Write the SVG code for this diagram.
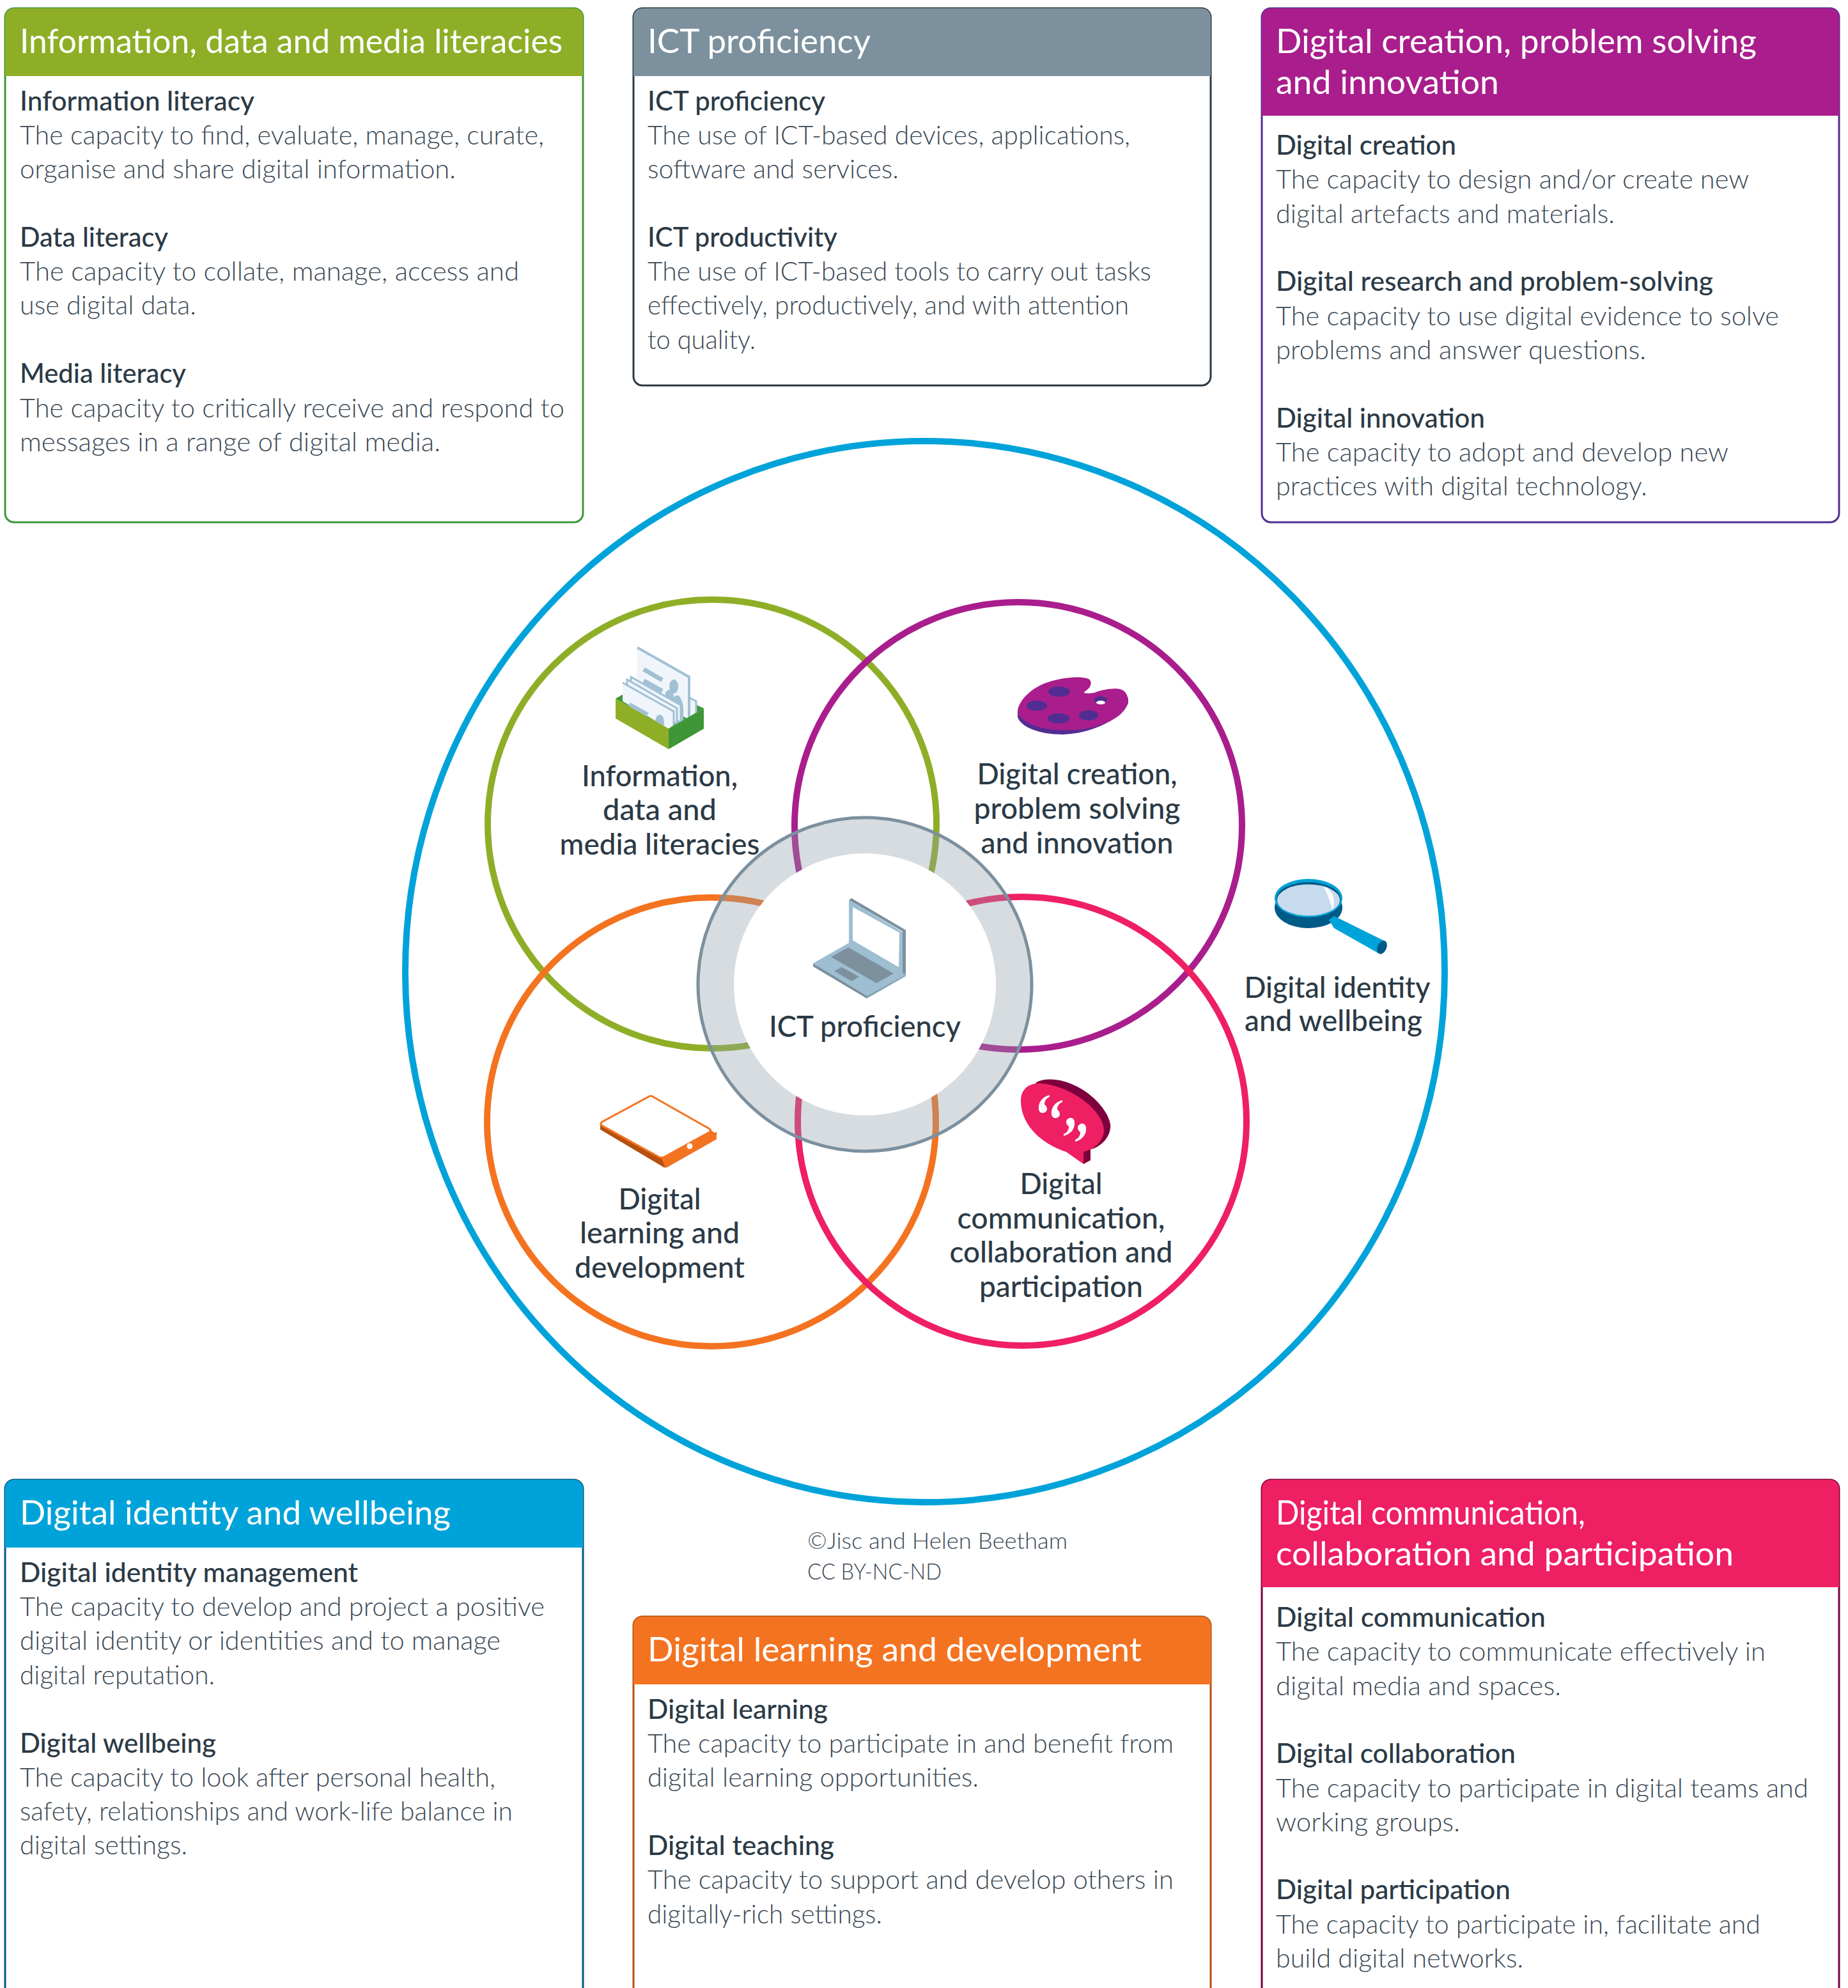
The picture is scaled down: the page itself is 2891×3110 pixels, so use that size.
<svg xmlns="http://www.w3.org/2000/svg" width="2891" height="3110" viewBox="0 0 2891 3110">
<style>
text{font-family:"Lato","Liberation Sans",sans-serif}
.h{font-size:52px;fill:#fff;font-weight:400}
.t{font-size:42px;fill:#2b3a46;font-weight:500}
.b{font-size:42px;fill:#3a4854;font-weight:300}
.c{font-size:36px;fill:#3a4854;font-weight:300}
.l{font-size:46px;fill:#2b3a46;font-weight:500;text-anchor:middle}
.o{fill:none;stroke-width:10}
.box{fill:#fff;stroke-width:3}
</style>
<defs>
<path id="q" fill="#fff" d="M9,-14C-3,-11-9,-2-8,8C-7,15-1,15 2,13C7,10 5,3 1,1C1,-5 4,-9 9,-11Z"/>
</defs>
<rect width="2891" height="3110" fill="#fff"/>

<g id="venn">
<ellipse id="circle-identity" class="o" cx="1447" cy="1520" rx="813" ry="830" stroke="#00a3d9"/>
<circle id="circle-information" class="o" cx="1114" cy="1289" r="351" stroke="#8fae27"/>
<circle id="circle-creation" class="o" cx="1593" cy="1292" r="350" stroke="#a91e8c"/>
<circle id="circle-learning" class="o" cx="1113" cy="1755" r="351" stroke="#f47321"/>
<circle id="circle-communication" class="o" cx="1599" cy="1754" r="351" stroke="#ef1f63"/>
<g id="circle-ict">
<circle cx="1353" cy="1540" r="205" fill="#fff"/>
<path fill="#909ea9" fill-opacity=".36" fill-rule="evenodd" d="M1091,1540a262,262 0 1,0 524,0a262,262 0 1,0-524,0ZM1148,1540a205,205 0 1,1 410,0a205,205 0 1,1-410,0Z"/>
<circle cx="1353" cy="1540" r="261" fill="none" stroke="#7c909e" stroke-width="5"/>
</g>
</g>

<g id="icon-cards">
<polygon points="963,1093 973,1087 1090,1103 1101,1108 1046,1140" fill="#3f9638"/>
<polygon points="1078,1091 1089,1097 1089,1117 1078,1123" fill="#eff5fa" stroke="#a1c0d3" stroke-width="3"/>
<polygon points="997,1013 1078,1059 1078,1125 997,1090" fill="#eff5fa"/>
<path d="M997,1013L1078,1059V1122" fill="none" stroke="#a1c0d3" stroke-width="4"/>
<path d="M1007,1047L1036,1064M1007,1065L1036,1081" stroke="#a1c0d3" stroke-width="7"/>
<ellipse cx="1054" cy="1074" rx="7" ry="11" fill="#a1c0d3"/>
<ellipse cx="1047" cy="1090" rx="7" ry="11" fill="#a1c0d3"/>
<path d="M1050,1096Q1063,1076 1069,1105V1128H1050Z" fill="#a1c0d3"/>
<polygon points="987,1059 1065,1103 1065,1130 987,1095" fill="#eff5fa" stroke="#a1c0d3" stroke-width="3"/>
<polygon points="981,1063 1059,1108 1059,1132 981,1095" fill="#eff5fa" stroke="#a1c0d3" stroke-width="3"/>
<polygon points="974,1068 1054,1113 1054,1134 1046,1140 974,1097" fill="#eff5fa"/>
<path d="M974,1068L1054,1113V1134" fill="none" stroke="#a1c0d3" stroke-width="3"/>
<path d="M984,1102L1013,1118" stroke="#a1c0d3" stroke-width="7"/>
<ellipse cx="1032" cy="1130" rx="7" ry="12" fill="#a1c0d3"/>
<polygon points="963,1093 1046,1140 1046,1172 963,1124" fill="#8fae27"/>
<polygon points="1046,1140 1101,1108 1101,1140 1046,1172" fill="#3f9638"/>
</g>

<g id="icon-palette">
<path fill="#522d91" d="M1592,1112V1122C1597,1137 1625,1149 1663,1149C1700,1148 1750,1130 1765,1100V1092Z"/>
<path fill="#a91e8c" d="M1592,1112C1594,1095 1615,1074 1643,1066C1665,1059 1690,1058 1700,1061C1708,1063 1708,1070 1704,1076C1700,1080 1696,1082 1696,1084C1700,1085 1708,1085 1714,1083C1725,1079 1745,1075 1755,1079C1762,1082 1765,1090 1765,1098C1762,1112 1748,1124 1730,1131C1710,1140 1685,1143 1663,1142C1640,1142 1615,1137 1603,1127C1596,1122 1592,1118 1592,1112Z"/>
<ellipse cx="1657" cy="1082" rx="17" ry="8" fill="#522d91"/>
<ellipse cx="1622" cy="1104" rx="16" ry="8" fill="#522d91"/>
<ellipse cx="1656" cy="1124" rx="17" ry="8" fill="#522d91"/>
<ellipse cx="1703" cy="1119" rx="15" ry="8" fill="#522d91"/>
<ellipse cx="1722" cy="1095" rx="10" ry="6" fill="#522d91"/>
<ellipse cx="1722" cy="1099" rx="7" ry="3" fill="#fff"/>
</g>

<g id="icon-magnifier">
<ellipse cx="2047" cy="1420" rx="53" ry="32" fill="#005a87"/>
<path d="M2079,1439L2087,1433L2168,1473L2156,1491L2087,1452Z" fill="#00a3d9"/>
<ellipse cx="2162" cy="1482" rx="7" ry="11" fill="#005a87" transform="rotate(25 2162 1482)"/>
<ellipse cx="2047" cy="1405" rx="53" ry="30" fill="#00a3d9"/>
<ellipse cx="2047" cy="1406" rx="50" ry="26" fill="#005a87"/>
<ellipse cx="2047" cy="1408" rx="49" ry="24.500" fill="#c6dbee"/>
<path d="M2070,1386Q2092,1396 2085,1424Q2078,1400 2070,1386Z" fill="#fff"/>
</g>

<g id="icon-tablet">
<path d="M939,1758V1767L1035,1824Q1041,1829 1047,1824L1121,1782V1771L1035,1812Z" fill="#b5500f"/>
<polygon points="1112,1768 1121,1774 1121,1782 1041,1827 1035,1812" fill="#f47321"/>
<path d="M1014,1716Q1018,1713 1022,1716L1110,1766Q1113,1768 1110,1771L1039,1810Q1035,1812 1031,1810L942,1761Q938,1758 942,1755Z" fill="#fff" stroke="#f47321" stroke-width="3"/>
<circle cx="1079" cy="1793" r="4.500" fill="#fff"/>
</g>

<g id="icon-speech">
<path fill="#7d003c" d="M1620,1694C1640,1682 1680,1690 1710,1717C1730,1735 1739,1755 1737,1765C1735,1782 1720,1795 1706,1798V1815L1695,1821L1690,1790Z"/>
<path fill="#ef1f63" d="M1597,1722C1597,1702 1612,1693 1630,1695C1680,1700 1727,1740 1727,1768C1727,1785 1712,1798 1695,1802V1821L1668,1802C1630,1790 1597,1760 1597,1722Z"/>
<use href="#q" x="1633" y="1727"/>
<use href="#q" x="1653" y="1735"/>
<use href="#q" transform="translate(1673 1763) rotate(180)"/>
<use href="#q" transform="translate(1691 1772) rotate(180)"/>
</g>

<g id="icon-laptop">
<polygon points="1328,1408 1332,1405 1417,1455 1417,1527 1412,1528 1412,1457" fill="#7c909e"/>
<polygon points="1328,1408 1412,1458 1412,1528 1328,1475" fill="#9ebed2"/>
<polygon points="1334,1419 1407,1459 1406,1513 1334,1471" fill="#fff"/>
<polygon points="1272,1507 1272,1512 1356,1562 1356,1555" fill="#7c909e"/>
<polygon points="1356,1555 1356,1562 1417,1527 1417,1522" fill="#87a3b5"/>
<polygon points="1272,1507 1328,1475 1417,1525 1356,1558" fill="#9ebed2"/>
<polygon points="1300,1497 1327,1482 1398,1523 1371,1538" fill="#7c909e"/>
<polygon points="1305,1519 1317,1513 1344,1528 1332,1535" fill="#7c909e"/>
</g>

<g id="label-information">
<text class="l" x="1032" y="1230" textLength="244" lengthAdjust="spacingAndGlyphs">Information,</text>
<text class="l" x="1032" y="1283" textLength="178" lengthAdjust="spacingAndGlyphs">data and</text>
<text class="l" x="1032" y="1337" textLength="313" lengthAdjust="spacingAndGlyphs">media literacies</text>
</g>
<g id="label-creation">
<text class="l" x="1685" y="1227" textLength="313" lengthAdjust="spacingAndGlyphs">Digital creation,</text>
<text class="l" x="1685" y="1281" textLength="323" lengthAdjust="spacingAndGlyphs">problem solving</text>
<text class="l" x="1685" y="1335" textLength="301" lengthAdjust="spacingAndGlyphs">and innovation</text>
</g>
<g id="label-identity">
<text class="l" x="2092" y="1561" textLength="291" lengthAdjust="spacingAndGlyphs">Digital identity</text>
<text class="l" x="2086" y="1613" textLength="278" lengthAdjust="spacingAndGlyphs">and wellbeing</text>
</g>
<g id="label-ict">
<text class="l" x="1353" y="1622" textLength="300" lengthAdjust="spacingAndGlyphs">ICT proficiency</text>
</g>
<g id="label-learning">
<text class="l" x="1032" y="1892" textLength="129" lengthAdjust="spacingAndGlyphs">Digital</text>
<text class="l" x="1032" y="1945" textLength="250" lengthAdjust="spacingAndGlyphs">learning and</text>
<text class="l" x="1032" y="1999" textLength="266" lengthAdjust="spacingAndGlyphs">development</text>
</g>
<g id="label-communication">
<text class="l" x="1660" y="1868" textLength="129" lengthAdjust="spacingAndGlyphs">Digital</text>
<text class="l" x="1660" y="1922" textLength="325" lengthAdjust="spacingAndGlyphs">communication,</text>
<text class="l" x="1660" y="1975" textLength="349" lengthAdjust="spacingAndGlyphs">collaboration and</text>
<text class="l" x="1660" y="2029" textLength="256" lengthAdjust="spacingAndGlyphs">participation</text>
</g>

<g id="box-information">
<rect class="box" x="8" y="13" width="904" height="804" rx="14" stroke="#3f9638"/>
<path d="M8,119V27a14,14 0 0 1 14-14H898a14,14 0 0 1 14,14V119Z" fill="#8fae27"/>
<text class="h" x="31" y="83" textLength="849" lengthAdjust="spacingAndGlyphs">Information, data and media literacies</text>
<text class="t" x="31" y="173" textLength="367" lengthAdjust="spacingAndGlyphs">Information literacy</text>
<text class="b" x="31" y="226" textLength="820" lengthAdjust="spacingAndGlyphs">The capacity to find, evaluate, manage, curate,</text>
<text class="b" x="31" y="279" textLength="682" lengthAdjust="spacingAndGlyphs">organise and share digital information.</text>
<text class="t" x="31" y="386" textLength="232" lengthAdjust="spacingAndGlyphs">Data literacy</text>
<text class="b" x="31" y="439" textLength="781" lengthAdjust="spacingAndGlyphs">The capacity to collate, manage, access and</text>
<text class="b" x="31" y="492" textLength="276" lengthAdjust="spacingAndGlyphs">use digital data.</text>
<text class="t" x="31" y="599" textLength="260" lengthAdjust="spacingAndGlyphs">Media literacy</text>
<text class="b" x="31" y="653" textLength="852" lengthAdjust="spacingAndGlyphs">The capacity to critically receive and respond to</text>
<text class="b" x="31" y="706" textLength="658" lengthAdjust="spacingAndGlyphs">messages in a range of digital media.</text>
</g>

<g id="box-ict">
<rect class="box" x="991" y="13" width="903" height="590" rx="14" stroke="#2b3a46"/>
<path d="M991,119V27a14,14 0 0 1 14-14H1880a14,14 0 0 1 14,14V119Z" fill="#7c909e"/>
<text class="h" x="1013" y="83" textLength="349" lengthAdjust="spacingAndGlyphs">ICT proficiency</text>
<text class="t" x="1013" y="173" textLength="278" lengthAdjust="spacingAndGlyphs">ICT proficiency</text>
<text class="b" x="1013" y="226" textLength="755" lengthAdjust="spacingAndGlyphs">The use of ICT-based devices, applications,</text>
<text class="b" x="1013" y="279" textLength="393" lengthAdjust="spacingAndGlyphs">software and services.</text>
<text class="t" x="1013" y="386" textLength="297" lengthAdjust="spacingAndGlyphs">ICT productivity</text>
<text class="b" x="1013" y="439" textLength="788" lengthAdjust="spacingAndGlyphs">The use of ICT-based tools to carry out tasks</text>
<text class="b" x="1013" y="492" textLength="753" lengthAdjust="spacingAndGlyphs">effectively, productively, and with attention</text>
<text class="b" x="1013" y="546" textLength="169" lengthAdjust="spacingAndGlyphs">to quality.</text>
</g>

<g id="box-creation">
<rect class="box" x="1974" y="13" width="903" height="804" rx="14" stroke="#522d91"/>
<path d="M1974,181V27a14,14 0 0 1 14-14H2863a14,14 0 0 1 14,14V181Z" fill="#a91e8c"/>
<text class="h" x="1996" y="83" textLength="752" lengthAdjust="spacingAndGlyphs">Digital creation, problem solving</text>
<text class="h" x="1996" y="147" textLength="349" lengthAdjust="spacingAndGlyphs">and innovation</text>
<text class="t" x="1996" y="242" textLength="282" lengthAdjust="spacingAndGlyphs">Digital creation</text>
<text class="b" x="1996" y="295" textLength="740" lengthAdjust="spacingAndGlyphs">The capacity to design and/or create new</text>
<text class="b" x="1996" y="349" textLength="530" lengthAdjust="spacingAndGlyphs">digital artefacts and materials.</text>
<text class="t" x="1996" y="455" textLength="684" lengthAdjust="spacingAndGlyphs">Digital research and problem-solving</text>
<text class="b" x="1996" y="509" textLength="787" lengthAdjust="spacingAndGlyphs">The capacity to use digital evidence to solve</text>
<text class="b" x="1996" y="562" textLength="579" lengthAdjust="spacingAndGlyphs">problems and answer questions.</text>
<text class="t" x="1996" y="669" textLength="327" lengthAdjust="spacingAndGlyphs">Digital innovation</text>
<text class="b" x="1996" y="722" textLength="708" lengthAdjust="spacingAndGlyphs">The capacity to adopt and develop new</text>
<text class="b" x="1996" y="775" textLength="581" lengthAdjust="spacingAndGlyphs">practices with digital technology.</text>
</g>

<g id="box-identity">
<rect class="box" x="8" y="2315" width="904" height="840" rx="14" stroke="#005a87"/>
<path d="M8,2421V2329a14,14 0 0 1 14-14H898a14,14 0 0 1 14,14V2421Z" fill="#00a3d9"/>
<text class="h" x="31" y="2385" textLength="674" lengthAdjust="spacingAndGlyphs">Digital identity and wellbeing</text>
<text class="t" x="31" y="2475" textLength="529" lengthAdjust="spacingAndGlyphs">Digital identity management</text>
<text class="b" x="31" y="2528" textLength="821" lengthAdjust="spacingAndGlyphs">The capacity to develop and project a positive</text>
<text class="b" x="31" y="2581" textLength="752" lengthAdjust="spacingAndGlyphs">digital identity or identities and to manage</text>
<text class="b" x="31" y="2635" textLength="305" lengthAdjust="spacingAndGlyphs">digital reputation.</text>
<text class="t" x="31" y="2742" textLength="307" lengthAdjust="spacingAndGlyphs">Digital wellbeing</text>
<text class="b" x="31" y="2795" textLength="744" lengthAdjust="spacingAndGlyphs">The capacity to look after personal health,</text>
<text class="b" x="31" y="2848" textLength="771" lengthAdjust="spacingAndGlyphs">safety, relationships and work-life balance in</text>
<text class="b" x="31" y="2901" textLength="262" lengthAdjust="spacingAndGlyphs">digital settings.</text>
</g>

<g id="box-learning">
<rect class="box" x="991" y="2529" width="903" height="640" rx="14" stroke="#b5500f"/>
<path d="M991,2635V2543a14,14 0 0 1 14-14H1880a14,14 0 0 1 14,14V2635Z" fill="#f47321"/>
<text class="h" x="1013" y="2599" textLength="773" lengthAdjust="spacingAndGlyphs">Digital learning and development</text>
<text class="t" x="1013" y="2689" textLength="282" lengthAdjust="spacingAndGlyphs">Digital learning</text>
<text class="b" x="1013" y="2742" textLength="823" lengthAdjust="spacingAndGlyphs">The capacity to participate in and benefit from</text>
<text class="b" x="1013" y="2795" textLength="518" lengthAdjust="spacingAndGlyphs">digital learning opportunities.</text>
<text class="t" x="1013" y="2902" textLength="292" lengthAdjust="spacingAndGlyphs">Digital teaching</text>
<text class="b" x="1013" y="2955" textLength="823" lengthAdjust="spacingAndGlyphs">The capacity to support and develop others in</text>
<text class="b" x="1013" y="3009" textLength="367" lengthAdjust="spacingAndGlyphs">digitally-rich settings.</text>
</g>

<g id="box-communication">
<rect class="box" x="1974" y="2315" width="903" height="840" rx="14" stroke="#7d003c"/>
<path d="M1974,2483V2329a14,14 0 0 1 14-14H2863a14,14 0 0 1 14,14V2483Z" fill="#ef1f63"/>
<text class="h" x="1996" y="2385" textLength="484" lengthAdjust="spacingAndGlyphs">Digital communication,</text>
<text class="h" x="1996" y="2449" textLength="716" lengthAdjust="spacingAndGlyphs">collaboration and participation</text>
<text class="t" x="1996" y="2545" textLength="422" lengthAdjust="spacingAndGlyphs">Digital communication</text>
<text class="b" x="1996" y="2598" textLength="766" lengthAdjust="spacingAndGlyphs">The capacity to communicate effectively in</text>
<text class="b" x="1996" y="2652" textLength="446" lengthAdjust="spacingAndGlyphs">digital media and spaces.</text>
<text class="t" x="1996" y="2758" textLength="375" lengthAdjust="spacingAndGlyphs">Digital collaboration</text>
<text class="b" x="1996" y="2812" textLength="833" lengthAdjust="spacingAndGlyphs">The capacity to participate in digital teams and</text>
<text class="b" x="1996" y="2865" textLength="288" lengthAdjust="spacingAndGlyphs">working groups.</text>
<text class="t" x="1996" y="2971" textLength="367" lengthAdjust="spacingAndGlyphs">Digital participation</text>
<text class="b" x="1996" y="3025" textLength="758" lengthAdjust="spacingAndGlyphs">The capacity to participate in, facilitate and</text>
<text class="b" x="1996" y="3078" textLength="387" lengthAdjust="spacingAndGlyphs">build digital networks.</text>
</g>

<g id="copyright">
<text class="c" x="1263" y="2423" textLength="407" lengthAdjust="spacingAndGlyphs">©Jisc and Helen Beetham</text>
<text class="c" x="1263" y="2471" textLength="210" lengthAdjust="spacingAndGlyphs">CC BY-NC-ND</text>
</g>
<g id="connectors"/>
</svg>
